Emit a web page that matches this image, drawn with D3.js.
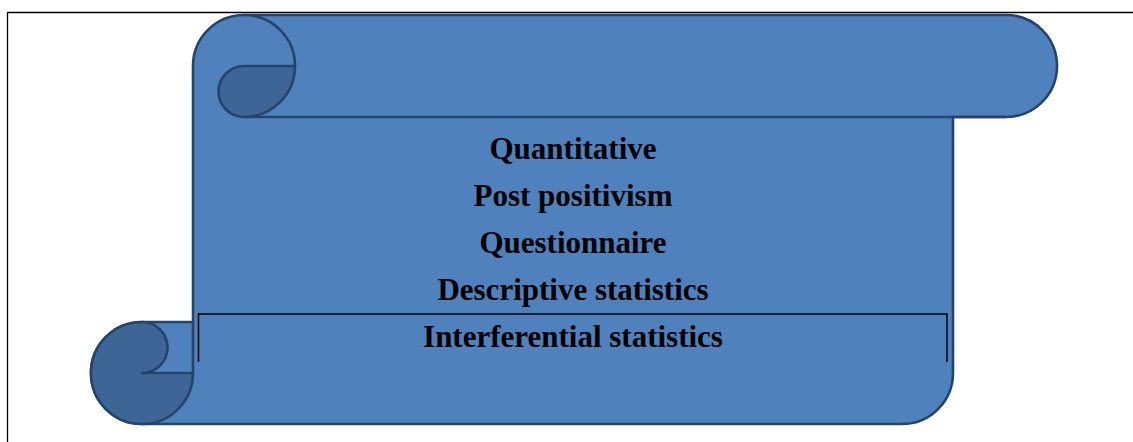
<!DOCTYPE html>
<html>
<head>
<meta charset="utf-8">
<script src="https://cdn.jsdelivr.net/npm/d3@7"></script>
<style>
	body { margin: 0; background: #fff; }
	svg { display: block; }
</style>
</head>
<body>
<svg width="1133" height="442"></svg>
<script>
// text lines written on the scroll, top to bottom
var labels = ['Quantitative', 'Post positivism', 'Questionnaire', 'Descriptive statistics', 'Interferential statistics'];
// which line sits in the boxed area at the bottom
var boxedLabel = 'Interferential statistics';

var light = '#4f81bd',
	dark = '#3d6595',
	edge = '#25446c',
	sw = 2.6;

var svg = d3.select('svg');

// page frame (top and left rule only)
svg.append('path')
	.attr('d', 'M7.5,442V12.5H1133')
	.attr('fill', 'none')
	.attr('stroke', '#000')
	.attr('stroke-width', 1.3);

// scroll geometry
var L = 193, R = 953, T = 15, B = 424, r = 51, rs = r/2, Rt = 1057;

var outline = d3.path();
outline.moveTo(L+r, T);
outline.lineTo(Rt-r, T);
outline.arc(Rt-r, T+r, r, -Math.PI/2, Math.PI/2);
outline.lineTo(R, T+2*r);
outline.lineTo(R, B-r);
outline.arc(R-r, B-r, r, 0, Math.PI/2);
outline.lineTo(L-r, B);
outline.arc(L-r, B-r, r, Math.PI/2, Math.PI*1.5);
outline.lineTo(L, B-2*r);
outline.lineTo(L, T+r);
outline.arc(L+r, T+r, r, Math.PI, Math.PI*1.5);
outline.closePath();

svg.append('path')
	.attr('d', outline.toString())
	.attr('fill', light)
	.attr('stroke', edge)
	.attr('stroke-width', sw)
	.attr('stroke-linejoin', 'round');

// top curl: right half of the big circle + the bar's lower edge
var topLine = d3.path();
topLine.arc(L+r, T+r, r, -Math.PI/2, 0);
topLine.moveTo(L+r, T+2*r);
topLine.lineTo(Rt-r, T+2*r);
svg.append('path')
	.attr('d', topLine.toString())
	.attr('fill', 'none')
	.attr('stroke', edge)
	.attr('stroke-width', sw);

var topCurl = d3.path();
topCurl.moveTo(L+r, T+r);
topCurl.lineTo(L+2*r, T+r);
topCurl.arc(L+r, T+r, r, 0, Math.PI/2);
topCurl.arc(L+r, T+r+rs, rs, Math.PI/2, Math.PI*1.5);
topCurl.closePath();
svg.append('path')
	.attr('d', topCurl.toString())
	.attr('fill', dark)
	.attr('stroke', edge)
	.attr('stroke-width', sw)
	.attr('stroke-linejoin', 'round');

// bottom curl
var botCurl = d3.path();
botCurl.moveTo(L-r, B-r);
botCurl.arc(L-r, B-r-rs, rs, Math.PI/2, -Math.PI/2, true);
botCurl.arc(L-r, B-r, r, -Math.PI/2, 0, true);
botCurl.closePath();
svg.append('path')
	.attr('d', botCurl.toString())
	.attr('fill', dark)
	.attr('stroke', edge)
	.attr('stroke-width', sw)
	.attr('stroke-linejoin', 'round');

// body left edge over the curl join
svg.append('line')
	.attr('x1', L).attr('y1', B-2*r)
	.attr('x2', L).attr('y2', B-r)
	.attr('stroke', edge)
	.attr('stroke-width', sw);

// text rows
var y = d3.scalePoint()
	.domain(labels)
	.range([159, 347]);

var cx = (L+R)/2;

// the open box round the last row
var by = y(boxedLabel);
svg.append('path')
	.attr('d', 'M198.5,' + (by+15) + 'V' + (by-33) + 'H947' + 'V' + (by+15))
	.attr('fill', 'none')
	.attr('stroke', '#000')
	.attr('stroke-width', 1.5);

svg.selectAll('text.lbl')
	.data(labels)
	.enter().append('text')
	.attr('class', 'lbl')
	.attr('x', cx)
	.attr('y', function(d){ return y(d); })
	.attr('text-anchor', 'middle')
	.attr('font-family', '"Liberation Serif", "Times New Roman", serif')
	.attr('font-weight', 'bold')
	.attr('font-size', 31)
	.attr('fill', '#000')
	.text(function(d){ return d; });
</script>
</body>
</html>
